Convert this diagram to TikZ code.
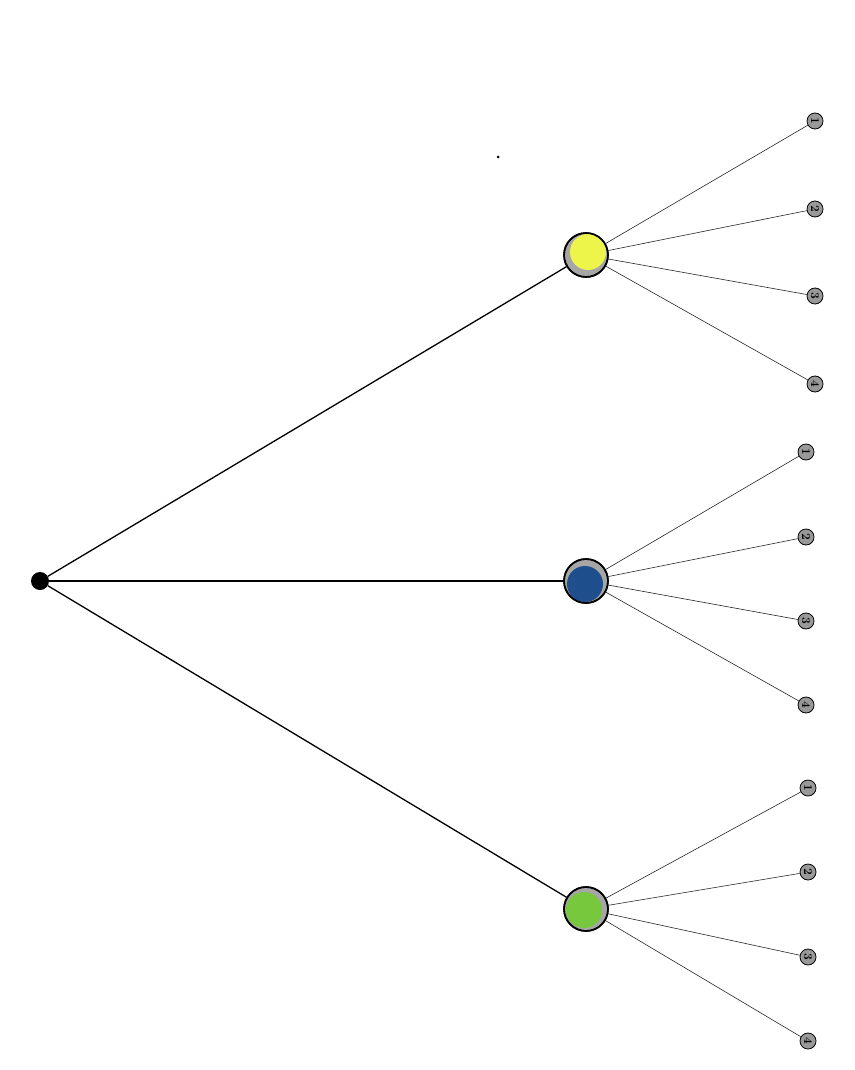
\documentclass[tikz,border=0pt]{standalone}
\definecolor{cy}{HTML}{EEF54A}
\definecolor{cb}{HTML}{1F4E8C}
\definecolor{cg}{HTML}{77C83C}
\begin{document}
\begin{tikzpicture}[x=1pt,y=-1pt,
  big/.style={circle,draw=black,line width=1.6pt,minimum size=44pt,inner sep=0pt},
  leaf/.style={circle,draw=black,line width=0.8pt,fill=gray!80,minimum size=16pt,inner sep=0pt,font=\bfseries\large,rotate=-90},
  main/.style={line width=1.3pt},
  thin/.style={line width=0.6pt,black!85}]
\useasboundingbox (0,0) rectangle (854,1070);
\fill (498,157) circle (1.5);
\node[circle,fill=black,minimum size=18pt,inner sep=0pt] (r) at (40,581) {};
\node[big,fill=gray!70] (a) at (586,255) {};
\fill[cy] (588,252) circle (18);
\node[big,fill=gray!70] (b) at (586,581) {};
\fill[cb] (585,584) circle (18);
\node[big,fill=gray!70] (c) at (586,909) {};
\fill[cg] (584,910) circle (18);
\node[big] at (a) {};
\node[big] at (b) {};
\node[big] at (c) {};
\draw[main] (r) -- (a);
\draw[main] (r) -- (b);
\draw[main] (r) -- (c);
\foreach \p/\x/\ya/\yb/\yc/\yd in {a/815/121/209/296/384, b/806/452/537/621/705, c/808/788/872/957/1041}{
  \node[leaf] (\p1) at (\x,\ya) {1};
  \node[leaf] (\p2) at (\x,\yb) {2};
  \node[leaf] (\p3) at (\x,\yc) {3};
  \node[leaf] (\p4) at (\x,\yd) {4};
  \foreach \i in {1,...,4}{\draw[thin] (\p) -- (\p\i);}
}
\end{tikzpicture}
\end{document}
